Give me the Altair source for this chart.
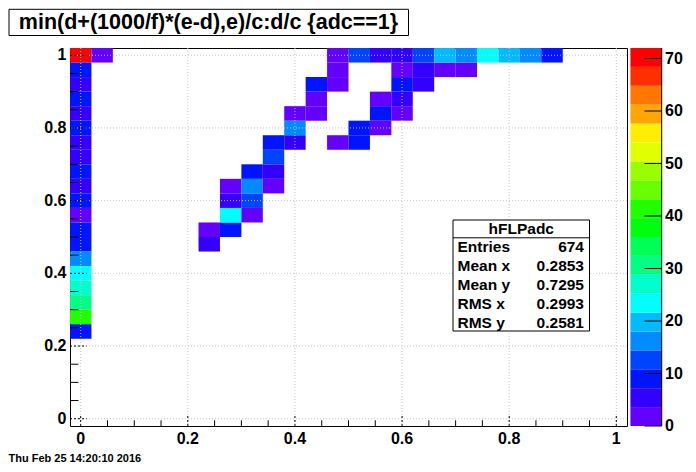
import colorsys
import altair as alt
import pandas as pd

# ---------------- data ----------------
x_range = [-0.02, 1.02]
y_range = [-0.02, 1.02]
bin_w = 0.04
z_max = 72

# 2D histogram cells (bin centres and bin contents)
cell_x = [0.00] * 20 + [0.04,
          0.24, 0.24, 0.28, 0.28, 0.32, 0.28, 0.32, 0.28, 0.32, 0.36,
          0.32, 0.36, 0.36, 0.36, 0.40, 0.48, 0.52, 0.40, 0.52, 0.56,
          0.40, 0.44, 0.56, 0.60, 0.44, 0.56, 0.60, 0.44, 0.48, 0.60, 0.64,
          0.48, 0.60, 0.64, 0.68, 0.72,
          0.48, 0.52, 0.56, 0.60, 0.64, 0.68, 0.72, 0.76, 0.80, 0.84, 0.88]
cell_y = [1.00, 0.96, 0.92, 0.88, 0.84, 0.80, 0.76, 0.72, 0.68, 0.64,
          0.60, 0.56, 0.52, 0.48, 0.44, 0.40, 0.36, 0.32, 0.28, 0.24,
          1.00,
          0.48, 0.52, 0.52, 0.56, 0.56, 0.60, 0.60, 0.64, 0.64, 0.64,
          0.68, 0.68, 0.72, 0.76, 0.76, 0.76, 0.76, 0.80, 0.80, 0.80,
          0.84, 0.84, 0.84, 0.84, 0.88, 0.88, 0.88, 0.92, 0.92, 0.92, 0.92,
          0.96, 0.96, 0.96, 0.96, 0.96,
          1.00, 1.00, 1.00, 1.00, 1.00, 1.00, 1.00, 1.00, 1.00, 1.00, 1.00]
cell_n = [70, 9, 5, 9, 5, 9, 5, 5, 9, 5,
          9, 2, 9, 9, 16, 23, 27, 30, 41, 9,
          2,
          5, 2, 9, 23, 2, 5, 13, 2, 16, 2,
          9, 5, 13, 9, 5, 2, 9, 16, 9, 2,
          2, 2, 9, 2, 2, 2, 5, 9, 2, 9, 5,
          2, 2, 5, 2, 2,
          2, 13, 5, 5, 13, 20, 16, 23, 20, 16, 9]

axis_major = [0, 0.2, 0.4, 0.6, 0.8, 1.0]
axis_labels = ["0", "0.2", "0.4", "0.6", "0.8", "1"]
axis_minor = [0.05, 0.10, 0.15, 0.25, 0.30, 0.35, 0.45, 0.50, 0.55,
              0.65, 0.70, 0.75, 0.85, 0.90, 0.95]
z_ticks = [0, 10, 20, 30, 40, 50, 60, 70]
z_labels = ["0", "10", "20", "30", "40", "50", "60", "70"]

title_text = "min(d+(1000/f)*(e-d),e)/c:d/c {adc==1}"
stats_name = "hFLPadc"
stats_labels = ["Entries", "Mean x", "Mean y", "RMS x", "RMS y"]
stats_values = ["674", "0.2853", "0.7295", "0.2993", "0.2581"]
date_text = "Thu Feb 25 14:20:10 2016"

# ---------------- style ----------------
W, H = 557, 378
FONT = "Liberation Sans"
LABEL_SIZE = 16
n_levels = 20
palette = []
for k in range(n_levels):
    idx = int((k + 0.99) * 50 / n_levels)
    hue = 280 - (idx + 1) * 5.6
    r, g, b = colorsys.hls_to_rgb(hue / 360.0, 0.5, 1.0)
    palette.append("#%02x%02x%02x" % (round(r * 255), round(g * 255), round(b * 255)))

cells = pd.DataFrame({"x": cell_x, "y": cell_y, "n": cell_n})
cells["x0"] = cells["x"] - bin_w / 2
cells["x1"] = cells["x"] + bin_w / 2
cells["y0"] = cells["y"] - bin_w / 2
cells["y1"] = cells["y"] + bin_w / 2

xs = alt.Scale(domain=x_range, nice=False, zero=False)
ys = alt.Scale(domain=y_range, nice=False, zero=False)

heat = alt.Chart(cells).mark_rect().encode(
    x=alt.X("x0:Q", scale=xs, axis=None), x2="x1:Q",
    y=alt.Y("y0:Q", scale=ys, axis=None), y2="y1:Q",
    color=alt.Color("n:Q", scale=alt.Scale(type="quantize", domain=[0, z_max], range=palette,
                                           nice=False, zero=False), legend=None),
)

grid_df = pd.DataFrame({"v": axis_major, "lab": axis_labels})
grid_x = alt.Chart(grid_df).mark_rule(color="#c4c4c4", strokeDash=[1, 2]).encode(
    x=alt.X("v:Q", scale=xs, axis=None))
grid_y = alt.Chart(grid_df).mark_rule(color="#c4c4c4", strokeDash=[1, 2]).encode(
    y=alt.Y("v:Q", scale=ys, axis=None))

minor_df = pd.DataFrame({"v": axis_minor})
ytick_major = alt.Chart(grid_df).mark_rule(color="black", strokeDash=[2, 2]).encode(
    y=alt.Y("v:Q", scale=ys, axis=None), x=alt.value(0), x2=alt.value(16.7))
ytick_minor = alt.Chart(minor_df).mark_rule(color="black").encode(
    y=alt.Y("v:Q", scale=ys, axis=None), x=alt.value(0), x2=alt.value(8.4))
xtick_major = alt.Chart(grid_df).mark_rule(color="black", strokeDash=[2, 2]).encode(
    x=alt.X("v:Q", scale=xs, axis=None), y=alt.value(H), y2=alt.value(H - 11.3))
xtick_minor = alt.Chart(minor_df).mark_rule(color="black").encode(
    x=alt.X("v:Q", scale=xs, axis=None), y=alt.value(H), y2=alt.value(H - 5.7))

xlab = alt.Chart(grid_df).mark_text(font=FONT, fontWeight="bold", fontSize=LABEL_SIZE,
                                    align="center", baseline="top").encode(
    x=alt.X("v:Q", scale=xs, axis=None), y=alt.value(H + 5), text="lab:N")
ylab = alt.Chart(grid_df).mark_text(font=FONT, fontWeight="bold", fontSize=LABEL_SIZE,
                                    align="right", baseline="middle").encode(
    y=alt.Y("v:Q", scale=ys, axis=None), x=alt.value(-3.5), text="lab:N")

one = pd.DataFrame({"a": [0]})
title_box = alt.Chart(one).mark_rect(fill="white", stroke="black", strokeWidth=1).encode(
    x=alt.value(-61), x2=alt.value(338.5), y=alt.value(-38.7), y2=alt.value(-12.5))
title_txt = alt.Chart(one).mark_text(font=FONT, fontWeight="bold", fontSize=21.5,
                                     align="center", baseline="middle").encode(
    text=alt.value(title_text), x=alt.value(138.5), y=alt.value(-25.3))

sx0, sx1, sy0, sy1 = 383.0, 519.5, 172, 283
stats_box = alt.Chart(one).mark_rect(fill="white", stroke="black", strokeWidth=1).encode(
    x=alt.value(sx0), x2=alt.value(sx1), y=alt.value(sy0), y2=alt.value(sy1))
stats_sep = alt.Chart(one).mark_rule(color="black").encode(
    x=alt.value(sx0), x2=alt.value(sx1), y=alt.value(189.8))
stats_head = alt.Chart(one).mark_text(font=FONT, fontWeight="bold", fontSize=15.5,
                                      align="center", baseline="middle").encode(
    text=alt.value(stats_name), x=alt.value((sx0 + sx1) / 2), y=alt.value(181))
stats_lab = alt.Chart(one).mark_text(font=FONT, fontWeight="bold", fontSize=15.5,
                                     align="left", baseline="middle", lineHeight=18.9).encode(
    text=alt.value(stats_labels), x=alt.value(387.5), y=alt.value(199))
stats_val = alt.Chart(one).mark_text(font=FONT, fontWeight="bold", fontSize=15.5,
                                     align="right", baseline="middle", lineHeight=18.9).encode(
    text=alt.value(stats_values), x=alt.value(514), y=alt.value(199))

date_txt = alt.Chart(one).mark_text(font=FONT, fontWeight="bold", fontSize=11,
                                    align="left", baseline="alphabetic").encode(
    text=alt.value(date_text), x=alt.value(-61.5), y=alt.value(414))

main = alt.layer(heat, grid_x, grid_y, ytick_major, ytick_minor, xtick_major, xtick_minor,
                 xlab, ylab, title_box, title_txt, stats_box, stats_sep, stats_head,
                 stats_lab, stats_val, date_txt)

# colour bar
band = z_max / n_levels
cb_df = pd.DataFrame({"lo": [k * band for k in range(n_levels)],
                      "hi": [(k + 1) * band for k in range(n_levels)],
                      "col": palette})
zs = alt.Scale(domain=[0, z_max], nice=False, zero=True)
cb_rect = alt.Chart(cb_df).mark_rect().encode(
    y=alt.Y("lo:Q", scale=zs, axis=None), y2="hi:Q",
    x=alt.value(560.4), x2=alt.value(591.7),
    color=alt.Color("col:N", scale=None, legend=None),
)
zt_df = pd.DataFrame({"v": z_ticks, "lab": z_labels})
cb_ticks = alt.Chart(zt_df).mark_rule(color="black").encode(
    y=alt.Y("v:Q", scale=zs, axis=None), x=alt.value(574.4), x2=alt.value(591.7))
cb_edge = alt.Chart(one).mark_rule(color="black").encode(
    x=alt.value(591.7), y=alt.value(0), y2=alt.value(H))
cb_lab = alt.Chart(zt_df).mark_text(font=FONT, fontWeight="bold", fontSize=LABEL_SIZE,
                                    align="left", baseline="middle").encode(
    y=alt.Y("v:Q", scale=zs, axis=None), x=alt.value(595), text="lab:N")
cbar = alt.layer(cb_rect, cb_ticks, cb_edge, cb_lab)

chart = alt.layer(main, cbar).resolve_scale(y="independent", color="independent").properties(
    width=W, height=H, padding={"left": 0, "top": 0, "right": 0, "bottom": 0}
).configure_view(stroke="black", strokeWidth=1)

chart.save("out.html", embed_options={"renderer": "svg", "actions": False})
